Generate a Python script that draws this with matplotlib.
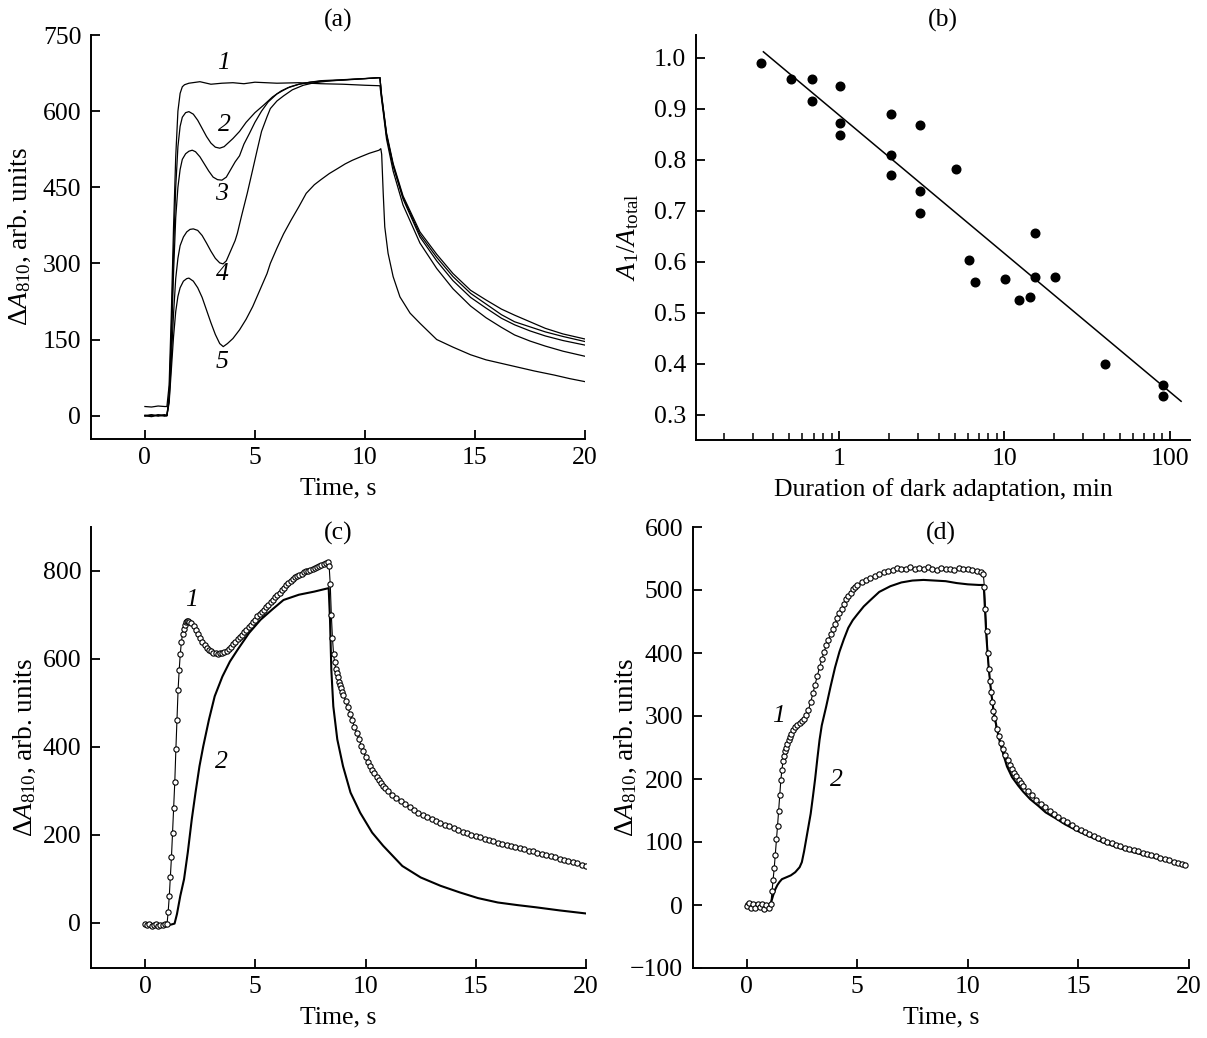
import numpy as np
import matplotlib
matplotlib.use("Agg")
import matplotlib.pyplot as plt
from matplotlib.ticker import FixedLocator, NullFormatter, LogLocator

plt.rcParams['font.family'] = ['Liberation Serif', 'DejaVu Serif']
plt.rcParams['mathtext.fontset'] = 'custom'
plt.rcParams['mathtext.rm'] = 'Liberation Serif'
plt.rcParams['mathtext.it'] = 'Liberation Serif:italic'
plt.rcParams['axes.linewidth'] = 1.4

FS = 18.5

# (a) kinetics, time (s) / dA810
a_curve1 = [[0.0, 18], [0.3, 17], [0.6, 19], [0.9, 18], [1.0, 18], [1.1, 60], [1.2, 200], [1.3, 370],
            [1.4, 510], [1.5, 600], [1.6, 635], [1.7, 648], [1.8, 652], [2.0, 655], [2.5, 658], [3.0, 653],
            [3.5, 655], [4.0, 656], [4.5, 654], [5.0, 657], [6.0, 655], [7.0, 656], [8.0, 654], [9.0, 653],
            [10.0, 651], [10.68, 650], [10.75, 625], [10.83, 598], [10.98, 545], [11.28, 482], [11.73, 415],
            [12.5, 340], [13.26, 290], [14.0, 250], [14.8, 216], [15.5, 193], [16.2, 174], [16.8, 159],
            [17.5, 147], [18.2, 137], [19.0, 127], [20.0, 117]]
a_curve2 = [[0, 0], [0.3, 2], [0.6, -1], [0.9, 1], [1.0, 0], [1.1, 40], [1.2, 160], [1.3, 320], [1.4, 450],
            [1.5, 530], [1.6, 570], [1.7, 588], [1.85, 597], [2.0, 599], [2.2, 594], [2.4, 582], [2.6, 566],
            [2.8, 550], [3.0, 537], [3.2, 529], [3.4, 527], [3.6, 530], [3.8, 538], [4.0, 546], [4.3, 560],
            [4.6, 578], [5.0, 597], [5.4, 612], [5.8, 628], [6.2, 640], [6.6, 648], [7.0, 653], [7.5, 657],
            [8.0, 659], [9.0, 661], [10.0, 664], [10.68, 666], [10.75, 630], [10.83, 603], [10.98, 552],
            [11.28, 492], [11.73, 427], [12.5, 352], [13.26, 305], [14.0, 266], [14.8, 233], [15.5, 212],
            [16.2, 192], [16.8, 179], [17.5, 167], [18.2, 157], [19.0, 148], [20.0, 139]]
a_curve3 = [[0, 1], [0.3, -1], [0.6, 2], [0.9, 0], [1.0, 0], [1.1, 35], [1.2, 140], [1.3, 280], [1.4, 390],
            [1.5, 450], [1.6, 485], [1.7, 505], [1.85, 516], [2.0, 521], [2.15, 523], [2.3, 520], [2.5, 510],
            [2.7, 496], [2.9, 482], [3.1, 470], [3.3, 465], [3.5, 464], [3.7, 470], [3.9, 485], [4.1, 500],
            [4.3, 512], [4.5, 535], [4.75, 556], [5.0, 578], [5.3, 600], [5.6, 618], [6.0, 634], [6.5, 646],
            [7.0, 653], [7.5, 657], [8.0, 660], [9.0, 662], [10.0, 664], [10.68, 666], [10.75, 632],
            [10.83, 605], [10.98, 554], [11.28, 494], [11.73, 430], [12.5, 357], [13.26, 312], [14.0, 274],
            [14.8, 241], [15.5, 220], [16.2, 199], [16.8, 185], [17.5, 175], [18.2, 165], [19.0, 156],
            [20.0, 146]]
a_curve4 = [[0, -1], [0.3, 1], [0.6, 0], [0.9, 2], [1.0, 0], [1.1, 30], [1.2, 110], [1.3, 200], [1.4, 270],
            [1.5, 310], [1.6, 335], [1.75, 352], [1.9, 362], [2.05, 367], [2.2, 368], [2.4, 365], [2.6, 355],
            [2.8, 340], [3.0, 324], [3.2, 310], [3.4, 301], [3.55, 299], [3.7, 305], [3.9, 325], [4.1, 345],
            [4.2, 359], [4.4, 395], [4.65, 438], [4.9, 485], [5.1, 523], [5.3, 560], [5.55, 589], [5.7, 605],
            [6.0, 620], [6.3, 630], [6.7, 642], [7.2, 651], [7.7, 656], [8.5, 660], [9.5, 663], [10.68, 666],
            [10.75, 635], [10.83, 607], [10.98, 557], [11.28, 497], [11.73, 433], [12.5, 362], [13.26, 318],
            [14.0, 280], [14.8, 247], [15.5, 228], [16.2, 210], [16.8, 198], [17.5, 185], [18.2, 172],
            [19.0, 161], [20.0, 151]]
a_curve5 = [[0, 0], [0.3, -2], [0.6, 1], [0.9, -1], [1.0, 0], [1.1, 25], [1.2, 90], [1.3, 155], [1.4, 205],
            [1.5, 235], [1.6, 252], [1.75, 265], [1.9, 270], [2.0, 271], [2.2, 265], [2.4, 252], [2.6, 233],
            [2.8, 208], [3.0, 183], [3.2, 160], [3.4, 142], [3.56, 136], [3.75, 142], [4.0, 152], [4.3, 169],
            [4.6, 190], [4.9, 215], [5.2, 245], [5.55, 280], [5.7, 300], [6.0, 330], [6.3, 358], [6.64, 385],
            [7.0, 412], [7.33, 438], [7.7, 455], [8.0, 465], [8.38, 477], [8.8, 488], [9.1, 496], [9.42, 503],
            [9.8, 510], [10.2, 517], [10.64, 523], [10.72, 526], [10.76, 515], [10.83, 438], [10.9, 372],
            [11.05, 320], [11.28, 274], [11.59, 234], [12.05, 202], [12.5, 182], [13.26, 150], [14.0, 135],
            [14.8, 120], [15.5, 110], [16.2, 103], [16.9, 96], [17.7, 88], [18.6, 80], [19.3, 73], [20.0, 67]]
a_labels = ['1', '2', '3', '4', '5']
a_label_pos = [[3.55, 694], [3.6, 572], [3.5, 437], [3.5, 279], [3.5, 106]]

# (b) A1/Atotal vs duration of dark adaptation (min)
dark_min = [0.337, 0.51, 0.682, 0.682, 1.016, 1.016, 1.016, 2.047, 2.047, 2.047, 3.066, 3.066, 3.066,
            5.115, 6.11, 6.62, 10.14, 12.24, 14.3, 15.35, 15.35, 20.4, 40.5, 91.8, 91.8]
ratio = [0.990, 0.958, 0.959, 0.916, 0.944, 0.873, 0.849, 0.890, 0.810, 0.770, 0.869, 0.739, 0.696,
         0.782, 0.603, 0.560, 0.567, 0.525, 0.531, 0.656, 0.570, 0.569, 0.400, 0.358, 0.337]
fit_min = [0.348, 117.5]
fit_ratio = [1.012, 0.326]

# (c)
c_curve1 = [[0.0, -3], [0.1, -6], [0.2, -4], [0.3, -7], [0.4, -5], [0.5, -3], [0.6, -8], [0.7, -6],
            [0.8, -5], [0.9, -4], [1.0, -2], [1.05, 25], [1.1, 60], [1.15, 105], [1.2, 150], [1.25, 205],
            [1.3, 260], [1.35, 320], [1.4, 395], [1.45, 460], [1.5, 530], [1.55, 575], [1.6, 612], [1.65, 638],
            [1.7, 656], [1.75, 668], [1.8, 677], [1.85, 683], [1.9, 686], [1.95, 686], [2.0, 685], [2.1, 681],
            [2.2, 674], [2.3, 666], [2.4, 657], [2.5, 648], [2.6, 639], [2.7, 631], [2.8, 624], [2.9, 620],
            [3.0, 617], [3.1, 614], [3.2, 613], [3.3, 612], [3.4, 613], [3.5, 614], [3.6, 616], [3.7, 619],
            [3.8, 623], [3.9, 628], [4.0, 634], [4.1, 639], [4.2, 645], [4.3, 650], [4.4, 655], [4.5, 661],
            [4.6, 666], [4.7, 672], [4.8, 677], [4.9, 683], [5.0, 689], [5.1, 697], [5.2, 702], [5.3, 707],
            [5.4, 712], [5.5, 717], [5.6, 723], [5.7, 729], [5.8, 735], [5.9, 740], [6.0, 745], [6.1, 751],
            [6.2, 757], [6.3, 762], [6.4, 767], [6.5, 772], [6.6, 777], [6.7, 781], [6.8, 786], [6.9, 789],
            [7.0, 791], [7.1, 794], [7.2, 797], [7.3, 799], [7.4, 801], [7.5, 803], [7.6, 805], [7.7, 807],
            [7.8, 810], [7.9, 812], [8.0, 814], [8.1, 816], [8.2, 818], [8.3, 820], [8.35, 812], [8.4, 770],
            [8.45, 700], [8.5, 648], [8.55, 612], [8.6, 592], [8.65, 578], [8.7, 568], [8.75, 558], [8.8, 548],
            [8.85, 540], [8.9, 533], [8.95, 525], [9.0, 518], [9.1, 505], [9.2, 490], [9.3, 475], [9.4, 460],
            [9.5, 445], [9.6, 432], [9.7, 418], [9.8, 403], [9.9, 390], [10.0, 378], [10.1, 366], [10.2, 357],
            [10.3, 348], [10.4, 340], [10.5, 332], [10.6, 325], [10.7, 318], [10.8, 312], [10.9, 306],
            [11.0, 300], [11.2, 290], [11.4, 283], [11.6, 276], [11.8, 270], [12.0, 263], [12.2, 257],
            [12.4, 250], [12.6, 245], [12.8, 240], [13.0, 236], [13.2, 231], [13.4, 227], [13.6, 223],
            [13.8, 219], [14.0, 215], [14.2, 211], [14.4, 207], [14.6, 204], [14.8, 200], [15.0, 197],
            [15.2, 194], [15.4, 191], [15.6, 188], [15.8, 185], [16.0, 182], [16.2, 180], [16.4, 177],
            [16.6, 174], [16.8, 172], [17.0, 169], [17.2, 167], [17.4, 164], [17.6, 162], [17.8, 159],
            [18.0, 157], [18.2, 154], [18.4, 152], [18.6, 149], [18.8, 146], [19.0, 143], [19.2, 140],
            [19.4, 138], [19.6, 135], [19.8, 132], [20.0, 130]]
c_curve2 = [[0, -3], [0.2, -6], [0.4, -4], [0.6, -7], [0.8, -5], [1.0, -6], [1.2, -4], [1.34, -2], [1.45, 20],
            [1.6, 61], [1.77, 99], [1.94, 160], [2.12, 235], [2.29, 296], [2.47, 356], [2.64, 401], [2.9, 462],
            [3.16, 515], [3.51, 560], [3.85, 594], [4.2, 621], [4.72, 659], [5.24, 689], [5.76, 712],
            [6.28, 734], [6.98, 746], [7.67, 753], [8.33, 761], [8.39, 689], [8.45, 575], [8.54, 492],
            [8.72, 417], [8.98, 356], [9.32, 296], [9.76, 250], [10.3, 205], [10.8, 175], [11.67, 129],
            [12.5, 103], [13.4, 84], [14.27, 69], [15.1, 56], [16.0, 46], [16.9, 40], [17.74, 35], [18.8, 28],
            [20.0, 21]]
c_label_pos = [[2.12, 734], [3.47, 365]]

# (d)
d_curve1 = [[0.0, -2], [0.1, 3], [0.2, -4], [0.3, 2], [0.4, -5], [0.5, 1], [0.6, -3], [0.7, 2], [0.8, -6],
            [0.9, 0], [1.0, -4], [1.1, 2], [1.15, 22], [1.2, 40], [1.25, 58], [1.3, 80], [1.35, 104],
            [1.4, 125], [1.45, 150], [1.5, 175], [1.55, 198], [1.6, 215], [1.65, 228], [1.7, 237], [1.75, 244],
            [1.8, 250], [1.85, 256], [1.9, 262], [1.95, 267], [2.0, 271], [2.1, 278], [2.2, 283], [2.3, 286],
            [2.4, 289], [2.5, 292], [2.6, 296], [2.7, 302], [2.8, 310], [2.9, 322], [3.0, 336], [3.1, 350],
            [3.2, 364], [3.3, 377], [3.4, 390], [3.5, 401], [3.6, 412], [3.7, 421], [3.8, 430], [3.9, 438],
            [4.0, 446], [4.1, 455], [4.2, 463], [4.3, 470], [4.4, 478], [4.5, 485], [4.6, 491], [4.7, 496],
            [4.8, 501], [4.9, 505], [5.0, 508], [5.2, 512], [5.4, 516], [5.6, 519], [5.8, 522], [6.0, 525],
            [6.2, 528], [6.4, 530], [6.6, 532], [6.8, 535], [7.0, 534], [7.2, 533], [7.4, 536], [7.6, 534],
            [7.8, 535], [8.0, 533], [8.2, 536], [8.4, 534], [8.6, 532], [8.8, 535], [9.0, 533], [9.2, 534],
            [9.4, 531], [9.6, 535], [9.8, 534], [10.0, 533], [10.2, 531], [10.4, 530], [10.6, 528],
            [10.7, 526], [10.75, 505], [10.8, 470], [10.85, 435], [10.9, 400], [10.95, 375], [11.0, 355],
            [11.05, 338], [11.1, 322], [11.15, 308], [11.2, 297], [11.3, 280], [11.4, 268], [11.5, 257],
            [11.6, 247], [11.7, 238], [11.8, 230], [11.9, 223], [12.0, 216], [12.1, 210], [12.2, 204],
            [12.3, 199], [12.4, 194], [12.5, 189], [12.7, 181], [12.9, 174], [13.1, 167], [13.3, 161],
            [13.5, 155], [13.7, 150], [13.9, 145], [14.1, 140], [14.3, 135], [14.5, 131], [14.7, 127],
            [14.9, 123], [15.1, 119], [15.3, 116], [15.5, 112], [15.7, 109], [15.9, 106], [16.1, 103],
            [16.3, 100], [16.5, 98], [16.7, 95], [16.9, 93], [17.1, 91], [17.3, 89], [17.5, 87], [17.7, 85],
            [17.9, 83], [18.1, 81], [18.3, 79], [18.5, 77], [18.7, 75], [18.9, 73], [19.1, 71], [19.3, 69],
            [19.5, 67], [19.7, 65], [19.8, 64]]
d_curve2 = [[0, 2], [0.2, -3], [0.4, 1], [0.6, -4], [0.8, 0], [1.0, -2], [1.1, 3], [1.2, 15], [1.3, 25],
            [1.4, 32], [1.5, 37], [1.6, 41], [1.8, 44], [2.0, 47], [2.2, 52], [2.4, 60], [2.5, 68], [2.6, 85],
            [2.7, 105], [2.8, 125], [2.9, 145], [3.0, 172], [3.1, 200], [3.2, 232], [3.3, 262], [3.4, 285],
            [3.5, 300], [3.6, 315], [3.8, 347], [4.0, 377], [4.2, 402], [4.4, 422], [4.6, 440], [4.8, 452],
            [5.0, 461], [5.3, 474], [5.6, 484], [6.0, 497], [6.5, 506], [7.0, 512], [7.5, 515], [8.0, 516],
            [8.5, 515], [9.0, 514], [9.5, 511], [10.0, 509], [10.5, 508], [10.72, 508], [10.77, 474],
            [10.84, 427], [10.94, 379], [11.05, 340], [11.16, 310], [11.3, 283], [11.42, 263], [11.6, 240],
            [11.77, 220], [12.0, 203], [12.29, 189], [12.5, 180], [12.82, 168], [13.2, 157], [13.52, 147],
            [14.0, 137], [14.4, 128], [15.0, 117], [15.5, 109], [16.15, 99], [17.0, 89], [17.9, 80],
            [18.8, 72], [19.82, 62]]
d_label_pos = [[1.45, 300], [4.06, 199]]

W, H = 1207, 1038
fig = plt.figure(figsize=(W / 100, H / 100), dpi=100)


def box(left, top, right, bottom):
    return [left / W, 1 - bottom / H, (right - left) / W, (bottom - top) / H]


ax_a = fig.add_axes(box(91, 35, 585, 439))
ax_b = fig.add_axes(box(696, 35, 1190, 440))
ax_c = fig.add_axes(box(91, 527, 586, 968))
ax_d = fig.add_axes(box(693, 527, 1189, 968))


def style(ax):
    for s in ['top', 'right']:
        ax.spines[s].set_visible(False)
    ax.tick_params(which='major', direction='in', length=6.5, width=1.3, labelsize=FS, pad=7)
    ax.tick_params(which='minor', direction='in', length=5, width=1.1)
    ax.tick_params(axis='x', which='major', pad=6)


ylab = r'$\mathrm{\Delta}A_{810}$, arb. units'
YFS = 19.5

# (a)
for cur in [a_curve1, a_curve2, a_curve3, a_curve4, a_curve5]:
    arr = np.array(cur)
    ax_a.plot(arr[:, 0], arr[:, 1], color='black', lw=0.9)
for lab, (x, y) in zip(a_labels, a_label_pos):
    ax_a.text(x, y, lab, fontsize=FS, style='italic', ha='center', va='center')
ax_a.set_xlim(-2.45, 20)
ax_a.set_ylim(-46, 750)
ax_a.set_xticks([0, 5, 10, 15, 20])
ax_a.set_yticks([0, 150, 300, 450, 600, 750])
ax_a.set_xlabel('Time, s', fontsize=FS)
ax_a.set_ylabel(ylab, fontsize=YFS)
ax_a.yaxis.set_label_coords(-0.117, 0.5)
ax_a.xaxis.set_label_coords(0.5, -0.094)
ax_a.text(0.5, 1.035, '(a)', transform=ax_a.transAxes, fontsize=FS, ha='center', va='center')
style(ax_a)

# (b)
ax_b.plot(dark_min, ratio, 'o', color='black', ms=6.2)
ax_b.plot(fit_min, fit_ratio, color='black', lw=1.1)
ax_b.set_xscale('log')
ax_b.set_xlim(0.136, 133)
ax_b.set_ylim(0.25, 1.045)
ax_b.xaxis.set_major_locator(FixedLocator([1, 10, 100]))
ax_b.set_xticklabels(['1', '10', '100'])
ax_b.xaxis.set_minor_locator(LogLocator(base=10, subs=np.arange(2, 10)))
ax_b.xaxis.set_minor_formatter(NullFormatter())
ax_b.set_yticks([0.3, 0.4, 0.5, 0.6, 0.7, 0.8, 0.9, 1.0])
ax_b.set_yticklabels(['0.3', '0.4', '0.5', '0.6', '0.7', '0.8', '0.9', '1.0'])
ax_b.set_xlabel('Duration of dark adaptation, min', fontsize=FS)
ax_b.set_ylabel(r'$A_1/A_{\rm total}$', fontsize=YFS)
ax_b.yaxis.set_label_coords(-0.111, 0.5)
ax_b.xaxis.set_label_coords(0.5, -0.094)
ax_b.text(0.5, 1.035, '(b)', transform=ax_b.transAxes, fontsize=FS, ha='center', va='center')
style(ax_b)

# (c)
arr = np.array(c_curve2)
ax_c.plot(arr[:, 0], arr[:, 1], color='black', lw=1.5)
arr = np.array(c_curve1)
ax_c.plot(arr[:, 0], arr[:, 1], '-o', color='black', lw=0.8, ms=3.8, mew=0.8, mfc='white')
for lab, (x, y) in zip(['1', '2'], c_label_pos):
    ax_c.text(x, y, lab, fontsize=FS, style='italic', ha='center', va='center')
ax_c.set_xlim(-2.45, 20)
ax_c.set_ylim(-103, 900)
ax_c.set_xticks([0, 5, 10, 15, 20])
ax_c.set_yticks([0, 200, 400, 600, 800])
ax_c.set_xlabel('Time, s', fontsize=FS)
ax_c.set_ylabel(ylab, fontsize=YFS)
ax_c.yaxis.set_label_coords(-0.107, 0.5)
ax_c.xaxis.set_label_coords(0.5, -0.087)
ax_c.text(0.5, 0.986, '(c)', transform=ax_c.transAxes, fontsize=FS, ha='center', va='center')
style(ax_c)

# (d)
arr = np.array(d_curve2)
ax_d.plot(arr[:, 0], arr[:, 1], color='black', lw=1.5)
arr = np.array(d_curve1)
ax_d.plot(arr[:, 0], arr[:, 1], '-o', color='black', lw=0.8, ms=3.8, mew=0.8, mfc='white')
for lab, (x, y) in zip(['1', '2'], d_label_pos):
    ax_d.text(x, y, lab, fontsize=FS, style='italic', ha='center', va='center')
ax_d.set_xlim(-2.42, 20)
ax_d.set_ylim(-100, 600)
ax_d.set_xticks([0, 5, 10, 15, 20])
ax_d.set_yticks([-100, 0, 100, 200, 300, 400, 500, 600])
ax_d.set_xlabel('Time, s', fontsize=FS)
ax_d.set_ylabel(ylab, fontsize=YFS)
ax_d.yaxis.set_label_coords(-0.109, 0.5)
ax_d.xaxis.set_label_coords(0.5, -0.087)
ax_d.text(0.5, 0.986, '(d)', transform=ax_d.transAxes, fontsize=FS, ha='center', va='center')
style(ax_d)

fig.savefig('out.png', dpi=100)
